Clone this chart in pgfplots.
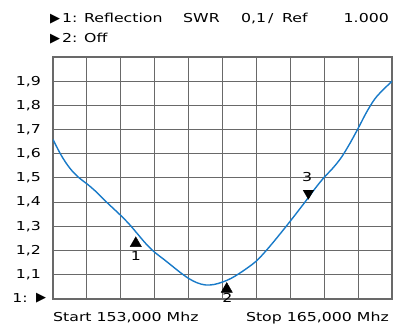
\documentclass[border=0pt]{standalone}
\usepackage{pgfplots}
\pgfplotsset{compat=1.18}
\usepackage{fontspec}
\setmainfont{DejaVu Sans}[FakeStretch=1.28]
\newfontfamily\symf{DejaVu Sans}

\definecolor{trace}{RGB}{24,122,200}
\definecolor{gridc}{RGB}{105,105,105}

\newcommand{\tri}{{\symf\fontsize{13}{13}\selectfont ▶}}

\begin{document}
\begin{tikzpicture}
\path[use as bounding box] (0pt,0pt) rectangle (403pt,324pt);

% header lines
\begin{scope}[every node/.style={inner sep=0pt, anchor=base west, font=\fontsize{12.3}{13}\selectfont}]
\node at (50pt,301.3pt) {\tri};
\node at (62pt,301.3pt) {1: Reflection};
\node at (183pt,301.3pt) {SWR};
\node at (241pt,301.3pt) {0,1};
\node at (268pt,301.3pt) {/};
\node at (282pt,301.3pt) {Ref};
\node[anchor=base east] at (389pt,301.3pt) {1.000};
\node at (50pt,281.7pt) {\tri};
\node at (62pt,281.7pt) {2: Off};
\node at (53pt,2.3pt) {Start 153,000 Mhz};
\node[anchor=base east] at (389pt,2.3pt) {Stop 165,000 Mhz};
\node[anchor=east] at (28pt,25.5pt) {1:};
\node[anchor=west] at (36pt,25.5pt) {\tri};
\end{scope}

\begin{axis}[
    at={(53pt,25pt)}, anchor=south west,
    width=339pt, height=242pt, scale only axis,
    xmin=153, xmax=165, ymin=1, ymax=2,
    xtick={153,154.2,155.4,156.6,157.8,159,160.2,161.4,162.6,163.8,165},
    xticklabels={},
    ytick={1,1.1,1.2,1.3,1.4,1.5,1.6,1.7,1.8,1.9,2},
    yticklabels={,{1,1},{1,2},{1,3},{1,4},{1,5},{1,6},{1,7},{1,8},{1,9},},
    yticklabel style={anchor=east, inner sep=0pt, xshift=-12pt, font=\fontsize{12.3}{13}\selectfont},
    major tick length=0pt,
    grid=major,
    major grid style={draw=gridc, line width=1pt},
    axis line style={draw=gridc, line width=1.2pt},
    clip mode=individual,
]
\addplot[trace, line width=1.4pt, smooth, tension=0.6] coordinates {
(153.00,1.659) (153.30,1.592) (153.60,1.540) (153.90,1.503) (154.20,1.476)
(154.50,1.446) (154.80,1.411) (155.10,1.378) (155.40,1.345) (155.70,1.309)
(156.00,1.268) (156.30,1.227) (156.60,1.193) (156.90,1.166) (157.20,1.138)
(157.50,1.110) (157.80,1.085) (158.10,1.067) (158.40,1.058) (158.70,1.060)
(159.00,1.070) (159.30,1.085) (159.60,1.106) (159.90,1.130) (160.20,1.157)
(160.50,1.194) (160.80,1.235) (161.10,1.278) (161.40,1.322) (161.70,1.367)
(162.00,1.413) (162.30,1.460) (162.60,1.503) (162.90,1.540) (163.20,1.584)
(163.50,1.641) (163.80,1.705) (164.10,1.772) (164.40,1.828) (164.70,1.866)
(165.00,1.900)
};
% markers 1 and 2 (up), 3 (down)
\addplot[only marks, mark=triangle*, mark size=6.5pt, black] coordinates {
(155.93,1.230) (159.15,1.041)
};
\addplot[only marks, mark=triangle*, mark size=6pt, black,
    every mark/.append style={rotate=180}] coordinates {
(162.04,1.437)
};
\node[font=\fontsize{12.3}{13}\selectfont, inner sep=0pt] at (axis cs:155.93,1.179) {1};
\node[font=\fontsize{12.3}{13}\selectfont, inner sep=0pt] at (axis cs:159.17,1.003) {2};
\node[font=\fontsize{12.3}{13}\selectfont, inner sep=0pt] at (axis cs:162.00,1.504) {3};
\end{axis}
\end{tikzpicture}
\end{document}
